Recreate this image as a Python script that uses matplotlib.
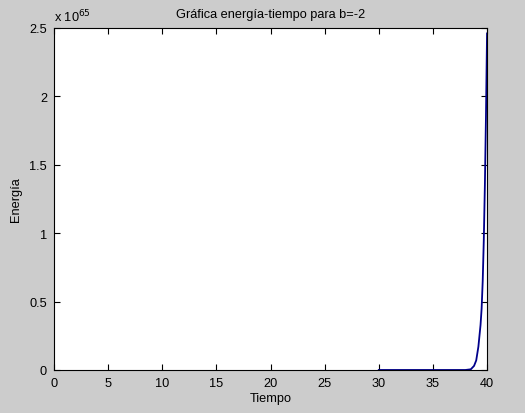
import matplotlib
matplotlib.use("Agg")
import matplotlib.pyplot as plt

# energia vs tiempo (en unidades de 1e65)
tiempo = [30, 35, 38, 38.5, 38.8, 39.0, 39.2, 39.4, 39.5, 39.6, 39.7, 39.8, 39.9, 40.0]
energia = [0, 0, 0, 0.005, 0.03, 0.07, 0.17, 0.33, 0.45, 0.65, 0.95, 1.35, 1.85, 2.46]

xticks = [0, 5, 10, 15, 20, 25, 30, 35, 40]
yticks = [0, 0.5, 1, 1.5, 2, 2.5]
ylabels = ["0", "0.5", "1", "1.5", "2", "2.5"]

plt.rcParams["font.family"] = ["Liberation Sans", "DejaVu Sans"]
fs = 9.2

fig = plt.figure(figsize=(5.25, 4.14), dpi=100, facecolor="#cccccc")
ax = fig.add_axes([0.1029, 0.1039, 0.8248, 0.8261])
ax.set_facecolor("white")

ax.plot(tiempo, energia, color="#00008b", lw=1.3)

ax.set_xlim(0, 40)
ax.set_ylim(0, 2.5)
ax.set_xticks(xticks)
ax.set_xticklabels([str(t) for t in xticks])
ax.set_yticks(yticks)
ax.set_yticklabels(ylabels)
ax.tick_params(direction="in", length=4, width=0.8, top=True, right=True,
               labelsize=fs, colors="black", pad=5)
for s in ax.spines.values():
    s.set_linewidth(0.8)
    s.set_color("black")

ax.set_title("Gráfica energía-tiempo para b=-2", fontsize=fs, pad=8)
ax.set_xlabel("Tiempo", fontsize=fs, labelpad=2)
ax.set_ylabel("Energía", fontsize=fs, labelpad=5)
ax.text(0.0, 1.012, r"x 10$^{65}$", transform=ax.transAxes, fontsize=fs,
        ha="left", va="bottom")

fig.savefig("out.png", dpi=100, facecolor=fig.get_facecolor())
